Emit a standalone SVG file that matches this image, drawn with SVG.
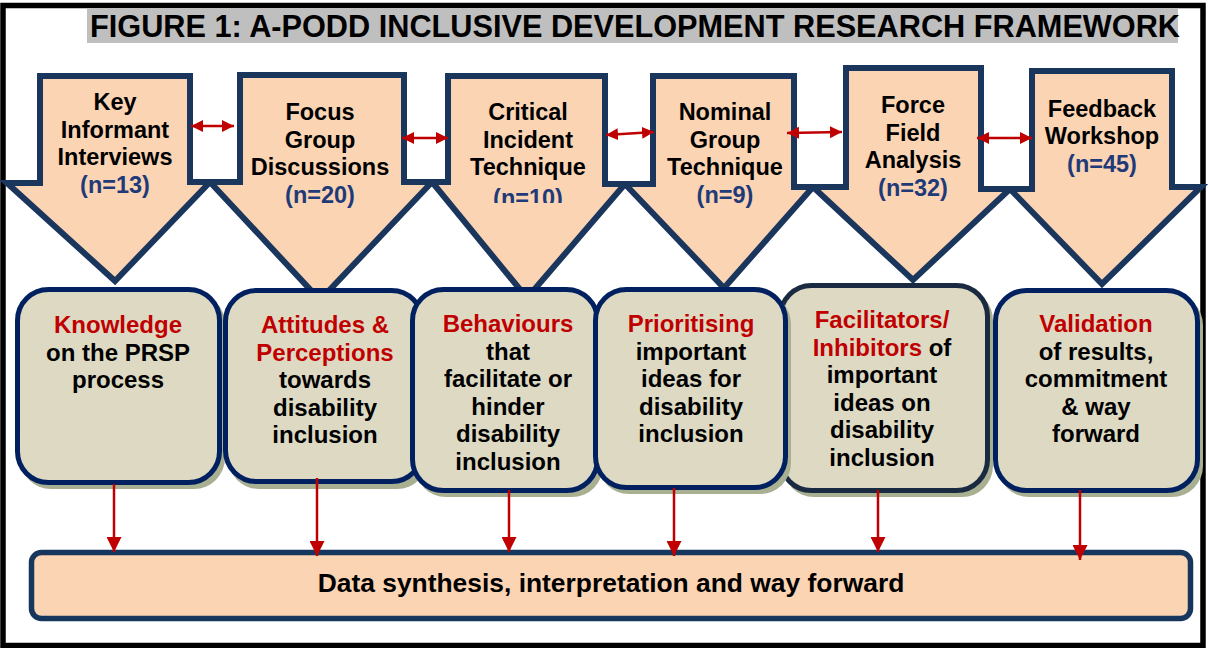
<svg xmlns="http://www.w3.org/2000/svg" width="1208" height="648" viewBox="0 0 1208 648">
  <defs>
    <style>
      text { font-family: "Liberation Sans", Arial, sans-serif; font-weight: bold; }
      .method { fill: #FBD4B4; stroke: #1B365D; stroke-width: 6; stroke-linejoin: miter; stroke-miterlimit: 4; }
      .mt { font-size: 23.5px; fill: #000; text-anchor: middle; }
      .n { fill: #1F3A78; }
      .focus { fill: #DDD9C3; stroke: #002060; stroke-width: 5; }
      .focus.dark { stroke: #1A2A40; }
      .shadow { fill: #A9AF91; }
      .ft { font-size: 24px; fill: #000; text-anchor: middle; }
      .hl { fill: #C00000; }
      .link { stroke: #C00000; stroke-width: 2.5; fill: none; }
    </style>
    <marker id="down" viewBox="0 0 10 10" refX="10" refY="5" markerWidth="15" markerHeight="15" markerUnits="userSpaceOnUse" orient="auto">
      <path d="M0,0 L10,5 L0,10 z" fill="#C00000"/>
    </marker>
    <marker id="both" viewBox="0 0 10 10" refX="10" refY="5" markerWidth="12" markerHeight="13" markerUnits="userSpaceOnUse" orient="auto-start-reverse">
      <path d="M0,0 L10,5 L0,10 z" fill="#C00000"/>
    </marker>
    <clipPath id="clip-n10">
      <rect x="440" y="180" width="180" height="23"/>
    </clipPath>
  </defs>

  <!-- page frame -->
  <rect x="3" y="5.5" width="1200" height="640" fill="#FFFFFF" stroke="#000" stroke-width="5.5"/>

  <!-- heading -->
  <g id="title">
    <rect x="87" y="8" width="1091" height="35" fill="#BFBFBF"/>
    <text x="90" y="37" style="font-size:30.7px" fill="#000">FIGURE 1: A-PODD INCLUSIVE DEVELOPMENT RESEARCH FRAMEWORK</text>
  </g>

  <!-- research methods (block arrows) -->
  <g id="m1">
    <polygon class="method" points="40,76 190,76 190,182 210,182 115,281 7,183 40,183"/>
    <text class="mt"><tspan x="115" y="110">Key</tspan><tspan x="115" y="137.5">Informant</tspan><tspan x="115" y="165">Interviews</tspan><tspan class="n" x="115" y="192.5">(n=13)</tspan></text>
  </g>
  <g id="m2">
    <polygon class="method" points="240,75 404,75 404,182 432,182 320,300 210,182 240,182"/>
    <text class="mt"><tspan x="320" y="120">Focus</tspan><tspan x="320" y="147.5">Group</tspan><tspan x="320" y="175">Discussions</tspan><tspan class="n" x="320" y="202.5">(n=20)</tspan></text>
  </g>
  <g id="m3">
    <polygon class="method" points="448,76 605,76 605,184 625,184 527,298 432,182 448,182"/>
    <text class="mt"><tspan x="528" y="120">Critical</tspan><tspan x="528" y="147.5">Incident</tspan><tspan x="528" y="175">Technique</tspan></text>
    <text class="mt n" x="528" y="206" clip-path="url(#clip-n10)">(n=10)</text>
  </g>
  <g id="m4">
    <polygon class="method" points="653,76 794,76 794,187 813,187 724,288 625,184 653,184"/>
    <text class="mt"><tspan x="725" y="120">Nominal</tspan><tspan x="725" y="147.5">Group</tspan><tspan x="725" y="175">Technique</tspan><tspan class="n" x="725" y="203">(n=9)</tspan></text>
  </g>
  <g id="m5">
    <polygon class="method" points="846,68 981,68 981,189 1010,189 913,280 813,187 846,187"/>
    <text class="mt"><tspan x="913" y="113">Force</tspan><tspan x="913" y="140.5">Field</tspan><tspan x="913" y="168">Analysis</tspan><tspan class="n" x="913" y="195.5">(n=32)</tspan></text>
  </g>
  <g id="m6">
    <polygon class="method" points="1032,71 1172,71 1172,187 1201,187 1102,284 1010,189 1032,189"/>
    <text class="mt"><tspan x="1102" y="117">Feedback</tspan><tspan x="1102" y="144">Workshop</tspan><tspan class="n" x="1102" y="171.5">(n=45)</tspan></text>
  </g>

  <!-- focus areas (rounded boxes) -->
  <g id="f1">
    <rect class="shadow" x="20" y="293" width="205" height="196" rx="31"/>
    <rect class="focus" x="17.5" y="289.5" width="202" height="193" rx="31"/>
    <text class="ft"><tspan class="hl" x="118" y="333">Knowledge</tspan><tspan x="118" y="360.5">on the PRSP</tspan><tspan x="118" y="388">process</tspan></text>
  </g>
  <g id="f2">
    <rect class="shadow" x="228" y="294" width="200" height="195" rx="31"/>
    <rect class="focus" x="225.5" y="290.5" width="197" height="191" rx="31"/>
    <text class="ft"><tspan class="hl" x="325" y="333">Attitudes &amp;</tspan><tspan class="hl" x="325" y="360.5">Perceptions</tspan><tspan x="325" y="388">towards</tspan><tspan x="325" y="415.5">disability</tspan><tspan x="325" y="443">inclusion</tspan></text>
  </g>
  <g id="f3">
    <rect class="shadow" x="415" y="293" width="188" height="204" rx="31"/>
    <rect class="focus" x="412.5" y="289.5" width="185" height="201" rx="31"/>
    <text class="ft"><tspan class="hl" x="508" y="332">Behaviours</tspan><tspan x="508" y="359.5">that</tspan><tspan x="508" y="387">facilitate or</tspan><tspan x="508" y="414.5">hinder</tspan><tspan x="508" y="442">disability</tspan><tspan x="508" y="469.5">inclusion</tspan></text>
  </g>
  <g id="f5">
    <rect class="shadow" x="783" y="289" width="210" height="208" rx="31"/>
    <rect class="focus dark" x="780.5" y="285.5" width="207" height="205" rx="31"/>
    <text class="ft"><tspan class="hl" x="882" y="328">Facilitators/</tspan><tspan x="882" y="355.5"><tspan class="hl">Inhibitors</tspan> of</tspan><tspan x="882" y="383">important</tspan><tspan x="882" y="410.5">ideas on</tspan><tspan x="882" y="438">disability</tspan><tspan x="882" y="465.5">inclusion</tspan></text>
  </g>
  <g id="f4">
    <rect class="shadow" x="598" y="293" width="193" height="201" rx="31"/>
    <rect class="focus" x="595.5" y="289.5" width="190" height="198" rx="31"/>
    <text class="ft"><tspan class="hl" x="691" y="332">Prioritising</tspan><tspan x="691" y="359.5">important</tspan><tspan x="691" y="387">ideas for</tspan><tspan x="691" y="414.5">disability</tspan><tspan x="691" y="442">inclusion</tspan></text>
  </g>
  <g id="f6">
    <rect class="shadow" x="998" y="294" width="205" height="203" rx="31"/>
    <rect class="focus" x="995.5" y="290.5" width="202" height="200" rx="31"/>
    <text class="ft"><tspan class="hl" x="1096" y="332">Validation</tspan><tspan x="1096" y="359.5">of results,</tspan><tspan x="1096" y="387">commitment</tspan><tspan x="1096" y="414.5">&amp; way</tspan><tspan x="1096" y="442">forward</tspan></text>
  </g>

  <!-- synthesis bar -->
  <g id="synthesis">
    <rect x="31.5" y="552.5" width="1159" height="66" rx="10" fill="#FBD4B4" stroke="#17365D" stroke-width="5.5"/>
    <text x="611" y="592" style="font-size:26.4px" text-anchor="middle" fill="#000">Data synthesis, interpretation and way forward</text>
  </g>

  <!-- connectors -->
  <g id="connectors">
    <line class="link" x1="191" y1="126" x2="234" y2="126" marker-start="url(#both)" marker-end="url(#both)"/>
    <line class="link" x1="402" y1="138" x2="448" y2="138" marker-start="url(#both)" marker-end="url(#both)"/>
    <line class="link" x1="606" y1="135" x2="654" y2="132" marker-start="url(#both)" marker-end="url(#both)"/>
    <line class="link" x1="787" y1="133" x2="842" y2="132" marker-start="url(#both)" marker-end="url(#both)"/>
    <line class="link" x1="977" y1="138" x2="1032" y2="138" marker-start="url(#both)" marker-end="url(#both)"/>

    <line class="link" x1="114" y1="484" x2="114" y2="552" marker-end="url(#down)"/>
    <line class="link" x1="317" y1="478" x2="317" y2="556" marker-end="url(#down)"/>
    <line class="link" x1="509" y1="490" x2="509" y2="552" marker-end="url(#down)"/>
    <line class="link" x1="674" y1="488" x2="674" y2="556" marker-end="url(#down)"/>
    <line class="link" x1="878" y1="490" x2="878" y2="552" marker-end="url(#down)"/>
    <line class="link" x1="1080" y1="490" x2="1080" y2="560" marker-end="url(#down)"/>
  </g>
</svg>
